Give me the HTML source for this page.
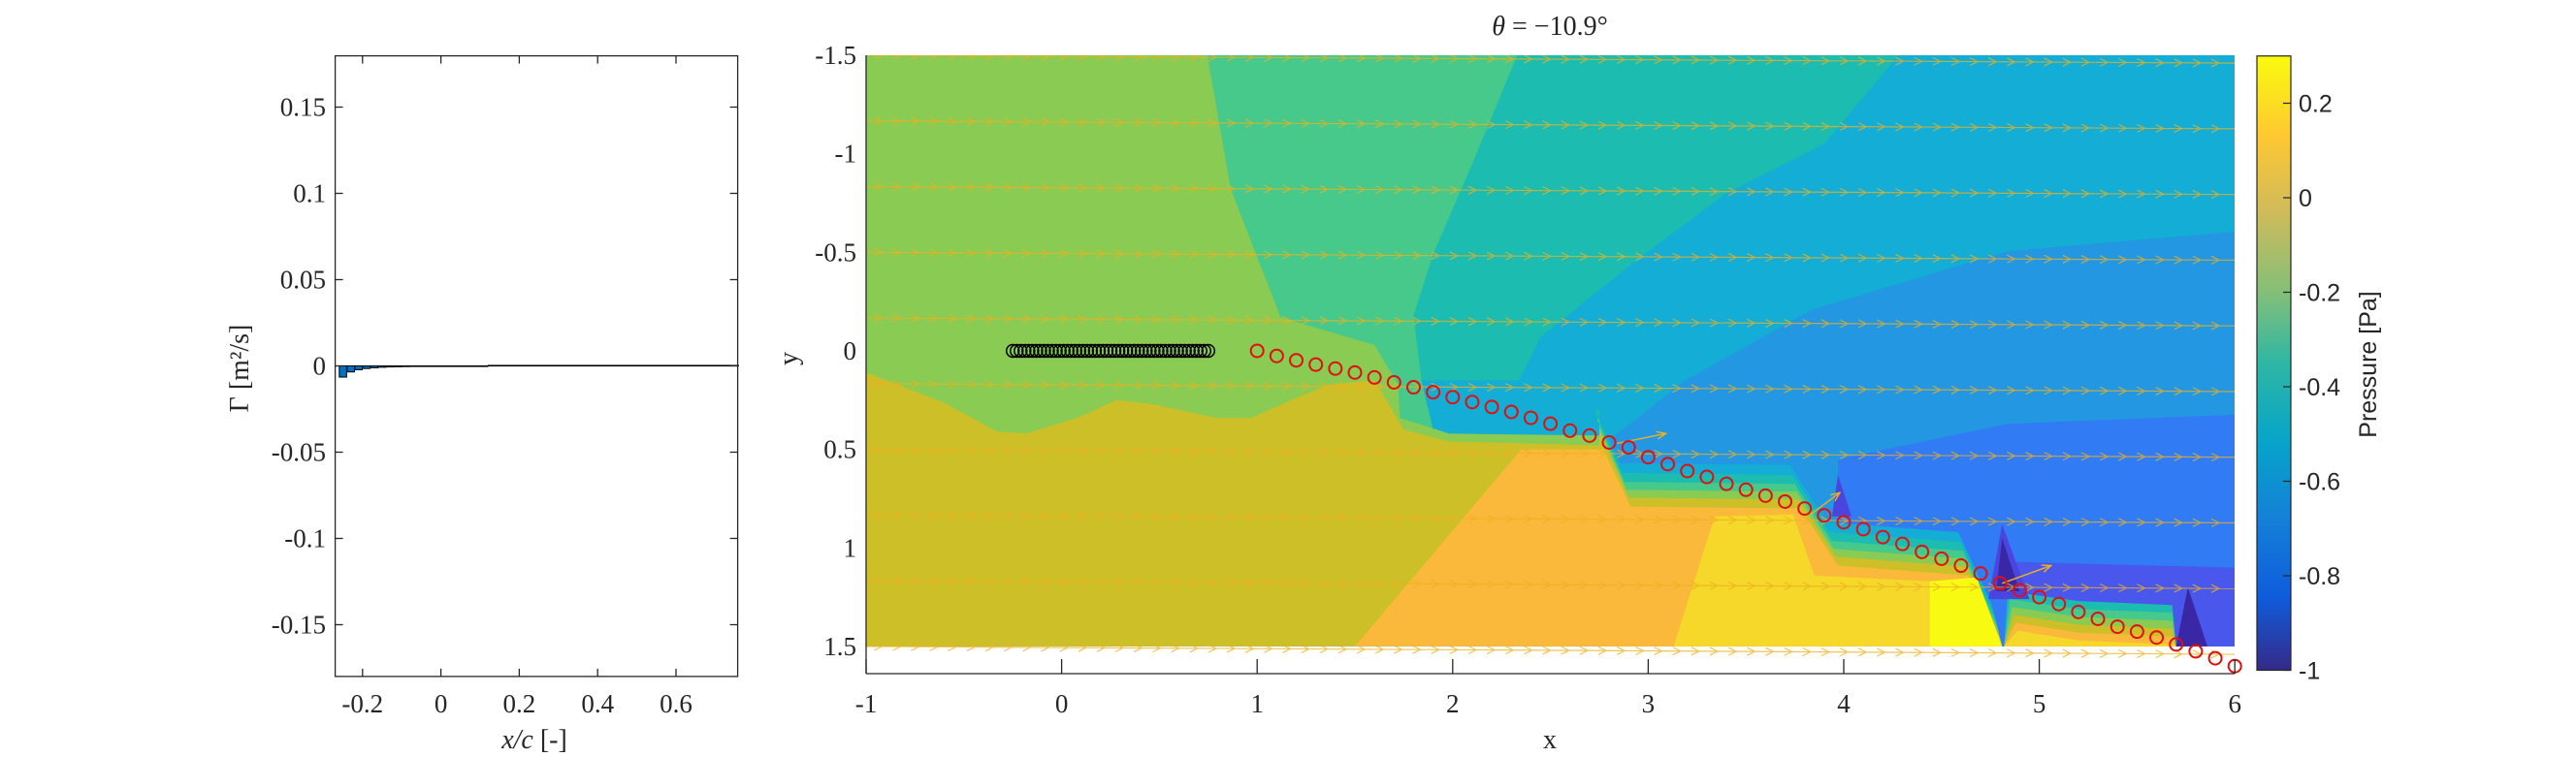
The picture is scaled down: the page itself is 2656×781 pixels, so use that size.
<!DOCTYPE html>
<html><head><meta charset="utf-8"><style>
html,body{margin:0;padding:0;background:#fff;}
svg{display:block;}
.ser{font-family:"Liberation Serif",serif;fill:#262626;}
.san{font-family:"Liberation Sans",sans-serif;fill:#262626;}
</style></head><body>
<svg id="fig" width="2656" height="781" viewBox="0 0 2656 781" xmlns="http://www.w3.org/2000/svg">
<defs>
<linearGradient id="parula" x1="0" y1="1" x2="0" y2="0">
<stop offset="0" stop-color="#352A87"/><stop offset="0.12" stop-color="#0F5CDD"/>
<stop offset="0.25" stop-color="#1481D6"/><stop offset="0.37" stop-color="#06A4CA"/>
<stop offset="0.5" stop-color="#2EB7A4"/><stop offset="0.62" stop-color="#87BF77"/>
<stop offset="0.75" stop-color="#D1BB59"/><stop offset="0.87" stop-color="#FEC832"/>
<stop offset="1" stop-color="#F9FB0E"/></linearGradient>
<clipPath id="fieldclip"><rect x="893" y="57" width="1411" height="638"/></clipPath>
</defs>
<g id="left"></g>
<g id="main"></g>
<g id="cbar"></g>
</svg>
<script>
// ---- left chart data ----
const barX = [];
for (let i = 0; i < 51; i++) barX.push(+(-0.25 + 0.02 * i).toFixed(2));
const barGamma = [-0.0065,-0.0035,-0.0022,-0.0015,-0.0011,-0.0008,-0.0006,-0.0005,-0.0004,-0.0003,-0.0003,-0.0002,
 0,0,0,0,0,0,0,
 0.0003,0.0003,0.0003,0.0003,0.0003,0.0003,0.0003,0.0003,0.0003,0.0003,0.0003,0.0003,0.0003,0.0003,0.0003,0.0003,
 0.0003,0.0003,0.0003,0.0003,0.0003,0.0003,0.0003,0.0003,0.0003,0.0003,0.0003,0.0003,0.0003,0.0003,0.0003,0.0003];
const leftXTicks = [-0.2,0,0.2,0.4,0.6];
const leftXTickLabels = ["-0.2","0","0.2","0.4","0.6"];
const leftYTicks = [0.15,0.1,0.05,0,-0.05,-0.1,-0.15];
const leftYTickLabels = ["0.15","0.1","0.05","0","-0.05","-0.1","-0.15"];
// ---- main chart data ----
const trajX = [];
for (let i = 0; i < 51; i++) trajX.push(+(1 + 0.1 * i).toFixed(1));
const trajY = [0,0.026,0.048,0.07,0.09,0.11,0.135,0.16,0.185,0.21,0.235,0.26,0.285,0.31,0.34,0.37,0.405,0.43,0.465,0.49,
 0.54,0.575,0.61,0.64,0.675,0.705,0.735,0.765,0.8,0.835,0.87,0.905,0.945,0.98,1.02,1.055,1.09,1.13,1.18,1.215,
 1.25,1.285,1.325,1.36,1.4,1.425,1.455,1.49,1.525,1.56,1.6];
const foilX = [];
for (let i = 0; i < 51; i++) foilX.push(+(-0.25 + 0.02 * i).toFixed(2));
const quiverRowsY = [-1.5,-1.1667,-0.8333,-0.5,-0.1667,0.1667,0.5,0.8333,1.1667,1.5];
const mainXTicks = [-1,0,1,2,3,4,5,6];
const mainYTicks = [-1.5,-1,-0.5,0,0.5,1,1.5];
const mainYTickLabels = ["-1.5","-1","-0.5","0","0.5","1","1.5"];
const cbarTicks = [0.2,0,-0.2,-0.4,-0.6,-0.8,-1];
const cbarTickLabels = ["0.2","0","-0.2","-0.4","-0.6","-0.8","-1"];

const NS = "http://www.w3.org/2000/svg";
function mk(parent, tag, attrs, text) {
  const e = document.createElementNS(NS, tag);
  for (const k in attrs) e.setAttribute(k, attrs[k]);
  if (text !== undefined) e.textContent = text;
  parent.appendChild(e);
  return e;
}
// ===== LEFT =====
const L = document.getElementById('left');
const LX = v => 454.6 + v * 404;
const LY = v => 377.5 - v * 1780;
const lx0 = 345.6, lx1 = 760.6, ly0 = 57.6, ly1 = 697.9;
barX.forEach((x, i) => {
  const v = barGamma[i];
  const y1 = LY(Math.max(v, 0)), y2 = LY(Math.min(v, 0));
  const r = mk(L, 'rect', {x: LX(x) - 3.8, y: y1, width: 7.6, height: Math.max(y2 - y1, 0.6), fill: '#0072BD', stroke: '#000', 'stroke-width': 1});
  
  
});
const lb = mk(L, 'rect', {x: lx0, y: ly0, width: lx1 - lx0, height: ly1 - ly0, fill: 'none', stroke: '#262626', 'stroke-width': 1.3});


leftXTicks.forEach((t, i) => {
  const x = LX(t);
  mk(L, 'line', {x1: x, x2: x, y1: ly1, y2: ly1 - 8, stroke: '#262626', 'stroke-width': 1.3});
  mk(L, 'line', {x1: x, x2: x, y1: ly0, y2: ly0 + 8, stroke: '#262626', 'stroke-width': 1.3});
  const tx = mk(L, 'text', {x: x, y: 735, 'text-anchor': 'middle', 'font-size': 27, class: 'ser'}, leftXTickLabels[i]);
  
  
});
leftYTicks.forEach((t, i) => {
  const y = LY(t);
  mk(L, 'line', {x1: lx0, x2: lx0 + 8, y1: y, y2: y, stroke: '#262626', 'stroke-width': 1.3});
  mk(L, 'line', {x1: lx1, x2: lx1 - 8, y1: y, y2: y, stroke: '#262626', 'stroke-width': 1.3});
  const ty = mk(L, 'text', {x: 336, y: y + 9, 'text-anchor': 'end', 'font-size': 27, class: 'ser'}, leftYTickLabels[i]);
  
  
});
const lyt = mk(L, 'text', {x: 0, y: 0, 'text-anchor': 'middle', 'font-size': 28, class: 'ser', transform: 'translate(256,380) rotate(-90)'}, 'Γ [m²/s]');


const lxt = mk(L, 'text', {x: 551, y: 772, 'text-anchor': 'middle', 'font-size': 28, class: 'ser'});


mk(lxt, 'tspan', {'font-style': 'italic'}, 'x/c');
mk(lxt, 'tspan', {}, ' [-]');

// ===== MAIN =====
const M = document.getElementById('main');
const X = x => 893 + (x + 1) * 201.6;
const Y = y => 57 + (y + 1.5) * 203.3;
const F = mk(M, 'g', {'clip-path': 'url(#fieldclip)'});


function poly(pts, fill, name) {
  const p = mk(F, 'polygon', {points: pts.map(p => X(p[0]).toFixed(1) + ',' + Y(p[1]).toFixed(1)).join(' '), fill: fill});
  
  
}
poly([[-1,-1.5],[6,-1.5],[6,1.5],[-1,1.5]], '#13ADD5', 'contour-cyan');
poly([[-1,-1.5],[4.28,-1.5],[3.9,-1.05],[3.4,-0.8],[2.92,-0.445],[2.45,-0.07],[2.34,0.15],[-1,0.15]], '#1CBDB0', 'contour-teal');
poly([[6,-0.605],[4.84,-0.506],[3.84,-0.21],[3.18,0.155],[2.91,0.37],[2.8,0.45],[2.8,1.5],[6,1.5]], '#2497E2', 'contour-blue');
poly([[6,0.325],[4.84,0.37],[3.97,0.55],[3.97,1.5],[6,1.5]], '#317BF5', 'contour-blue-dark');
poly([[4.84,1.07],[6,1.1],[6,1.5],[4.9,1.5]], '#4A57EC', 'contour-violet');
poly([[-1,-1.5],[2.33,-1.5],[2.1,-0.95],[1.9,-0.49],[1.8,-0.18],[1.84,0.15],[1.9,0.4],[-1,0.4]], '#46C98A', 'contour-teal-green');
poly([[-1,-1.5],[0.745,-1.5],[0.865,-0.82],[1.12,-0.17],[1.6,-0.03],[1.72,0.17],[1.73,0.34],[1.98,0.42],[2.77,0.43],[2.8,0.6],[-1,0.6]], '#89CB53', 'contour-light-green');
const edge = [[2.77,0.47],[2.91,0.79],[3.78,0.8],[3.97,1.09],[4.64,1.14],[4.81,1.5]];
const bandCols = ['#13ADD5','#1CBDB0','#46C98A','#89CB53','#CDBF27'];
const bandOff = [0.22,0.17,0.125,0.085,0.045];
bandCols.forEach((c, k) => {
  const d = bandOff[k];
  const pts = [[2.75, 0.47 - d]].concat(edge.map(p => [p[0] - d * 0.25, p[1] - d]));
  pts.push([4.81, 1.5], [2.75, 1.5]);
  poly(pts, c, 'contour-band');
});
const bbCols = ['#1CBDB0','#46C98A','#89CB53','#CDBF27','#FAB93B','#F5D829'];
bbCols.forEach((c, k) => {
  const t = 1.27 + k * 0.04;
  poly([[4.84 + k * 0.01, t - 0.05], [5.2, t], [5.68, t + 0.02], [5.7, 1.5], [4.82, 1.5]], c, 'contour-band');
});
poly([[-1,0.11],[-0.61,0.26],[-0.33,0.41],[-0.18,0.42],[0.08,0.34],[0.28,0.25],[0.46,0.27],[0.79,0.34],[0.97,0.34],[1.22,0.23],[1.37,0.17],[1.6,0.15],[1.75,0.4],[1.98,0.46],[2.77,0.48],[2.8,0.6],[1.5,1.5],[-1,1.5]], '#CDBF27', 'contour-olive');
poly([[1.5,1.5],[2.35,0.5],[2.77,0.5],[2.91,0.79],[3.78,0.8],[3.97,1.09],[4.64,1.14],[4.81,1.5]], '#FAB93B', 'contour-orange');
poly([[3.34,0.84],[3.74,0.83],[3.85,1.14],[4.44,1.17],[4.44,1.5],[3.13,1.5]], '#F5D829', 'contour-yellow');
poly([[4.44,1.17],[4.68,1.15],[4.81,1.5],[4.44,1.5]], '#F9FA12', 'contour-bright-yellow');
poly([[3.97,0.63],[3.94,0.84],[4.04,0.84]], '#4B45DF', 'contour-low-spike');
poly([[4.81,0.88],[4.74,1.26],[4.95,1.26]], '#4B45DF', 'contour-low-spike');
poly([[4.81,0.95],[4.78,1.22],[4.9,1.22]], '#3A27A6', 'contour-low-spike');
poly([[5.76,1.2],[5.7,1.5],[5.86,1.5]], '#3A27A6', 'contour-low-spike');
quiverRowsY.forEach(y0 => {
  const g = mk(F, 'g', {stroke: '#EDB120', 'stroke-width': 1.2, fill: 'none', opacity: 0.75});
  
  
  const slope = 0.04 / 7;
  mk(g, 'line', {x1: X(-1), y1: Y(y0), x2: X(6), y2: Y(y0 + 0.04)});
  for (let x = -0.92; x < 6; x += 0.095) {
    const px = X(x), py = Y(y0 + (x + 1) * slope);
    mk(g, 'polyline', {points: `${px - 8},${py - 4} ${px},${py} ${px - 8},${py + 4}`});
  }
});
[[2.84,0.47,3.09,0.42],[3.83,0.83,3.98,0.72],[4.81,1.18,5.06,1.09]].forEach(a => {
  const g = mk(F, 'g', {stroke: '#EDB120', 'stroke-width': 1.4, fill: 'none'});
  
  
  const x1 = X(a[0]), y1 = Y(a[1]), x2 = X(a[2]), y2 = Y(a[3]);
  mk(g, 'line', {x1, y1, x2, y2});
  const ang = Math.atan2(y2 - y1, x2 - x1);
  const h = 10;
  mk(g, 'polyline', {points: `${x2 - h * Math.cos(ang - 0.4)},${y2 - h * Math.sin(ang - 0.4)} ${x2},${y2} ${x2 - h * Math.cos(ang + 0.4)},${y2 - h * Math.sin(ang + 0.4)}`});
});
foilX.forEach(x => {
  const c = mk(M, 'circle', {cx: X(x), cy: Y(0), r: 6.5, fill: 'none', stroke: '#000', 'stroke-width': 1.5});
  
  
});
trajX.forEach((x, i) => {
  const c = mk(M, 'circle', {cx: X(x), cy: Y(trajY[i]), r: 6.5, fill: 'none', stroke: '#E01010', 'stroke-width': 2});
  
  
});
mk(M, 'line', {x1: 893, x2: 2304, y1: 695, y2: 695, stroke: '#262626', 'stroke-width': 1.3});
mk(M, 'line', {x1: 893, x2: 893, y1: 57, y2: 695, stroke: '#262626', 'stroke-width': 1.3});
mainXTicks.forEach(t => {
  const x = X(t);
  mk(M, 'line', {x1: x, x2: x, y1: 695, y2: 680, stroke: '#262626', 'stroke-width': 1.3});
  const tx = mk(M, 'text', {x: x, y: 735, 'text-anchor': 'middle', 'font-size': 27, class: 'ser'}, String(t));
  
  
});
mainYTicks.forEach((t, i) => {
  const y = Y(t);
  const ty = mk(M, 'text', {x: 883, y: y + 9, 'text-anchor': 'end', 'font-size': 27, class: 'ser'}, mainYTickLabels[i]);
  
  
});
const mxt = mk(M, 'text', {x: 1598, y: 772, 'text-anchor': 'middle', 'font-size': 28, class: 'ser'}, 'x');


const myt = mk(M, 'text', {x: 0, y: 0, 'text-anchor': 'middle', 'font-size': 28, class: 'ser', transform: 'translate(822,370) rotate(-90)'}, 'y');


const tt = mk(M, 'text', {x: 1598, y: 36, 'text-anchor': 'middle', 'font-size': 28, class: 'ser'});


mk(tt, 'tspan', {'font-style': 'italic'}, 'θ');
mk(tt, 'tspan', {}, ' = −10.9°');

const C = document.getElementById('cbar');
const CY = v => 204 - v * 487.5;
const cb = mk(C, 'rect', {x: 2327, y: CY(0.3), width: 35, height: CY(-1) - CY(0.3), fill: 'url(#parula)', stroke: '#262626', 'stroke-width': 1.2});


cbarTicks.forEach((t, i) => {
  const y = CY(t);
  mk(C, 'line', {x1: 2362, x2: 2354, y1: y, y2: y, stroke: '#262626', 'stroke-width': 1.2});
  const tx = mk(C, 'text', {x: 2370, y: y + 9, 'font-size': 25, class: 'san'}, cbarTickLabels[i]);
  
  
});
const cl = mk(C, 'text', {x: 0, y: 0, 'text-anchor': 'middle', 'font-size': 25, class: 'san', transform: 'translate(2450,376) rotate(-90)'}, 'Pressure [Pa]');


</script>
</body></html>
